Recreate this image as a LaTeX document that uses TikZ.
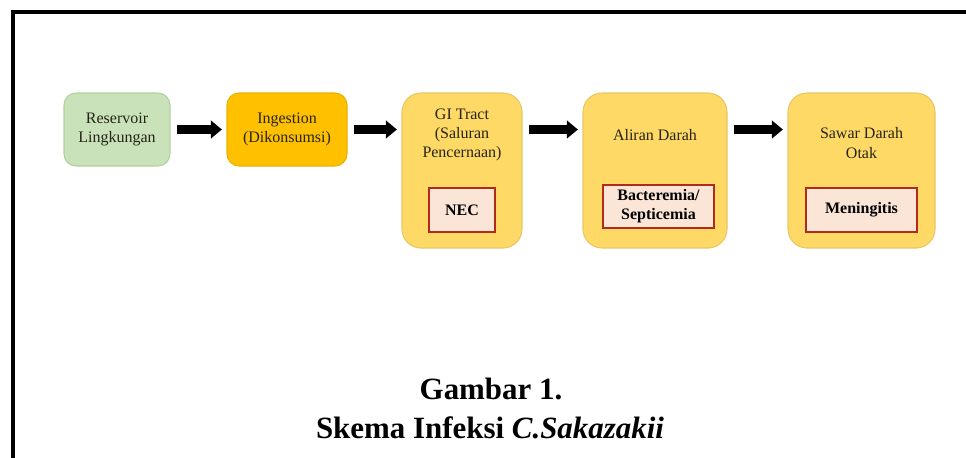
\documentclass[tikz,border=0pt]{standalone}
\usepackage{fontspec}
\setmainfont{Liberation Serif}
\usetikzlibrary{arrows.meta,positioning}

\definecolor{greenbox}{HTML}{C9E2B9}
\definecolor{greenline}{HTML}{B2CFA0}
\definecolor{goldbox}{HTML}{FFC000}
\definecolor{goldline}{HTML}{E9B200}
\definecolor{yellowbox}{HTML}{FFD966}
\definecolor{yellowline}{HTML}{E6C765}
\definecolor{pinkbox}{HTML}{FBE5D6}
\definecolor{redline}{HTML}{B22A1E}
\definecolor{titletext}{HTML}{262318}

\begin{document}
\begin{tikzpicture}[x=0.02cm,y=-0.02cm,
        smallbox/.style={rounded corners=0.24cm, line width=0.6pt, inner sep=0pt,
            minimum width=#1*0.02cm, minimum height=73*0.02cm},
        bigbox/.style={rounded corners=0.38cm, line width=0.6pt, inner sep=0pt,
            fill=yellowbox, draw=yellowline,
            minimum width=#1*0.02cm, minimum height=155*0.02cm},
        innerbox/.style={fill=pinkbox, draw=redline, line width=0.6pt, inner sep=0pt,
            minimum width=#1*0.02cm, minimum height=44*0.02cm,
            font=\fontsize{9.1}{10.8}\selectfont\bfseries, align=center},
        title/.style={font=\fontsize{9.1}{11}\selectfont, text=titletext, align=center},
        flow/.style={line width=5.1pt, -{Triangle[length=6.3pt,width=10pt]},
            shorten <=3.6pt, shorten >=2.6pt}]
        \useasboundingbox (0,0) rectangle (966,457);

        % frame
        \draw[line width=1.8pt, line cap=rect] (13,480) -- (13,12) -- (990,12);

        % the five stages
        \node[smallbox=106, fill=greenbox, draw=greenline] (res) at (117,129.5) {};
        \node[smallbox=120, fill=goldbox, draw=goldline] (ing) at (287,129.5) {};
        \node[bigbox=120] (gi) at (462,170.5) {};
        \node[bigbox=144] (ali) at (655,170.5) {};
        \node[bigbox=147] (saw) at (861.5,170.5) {};

        \node[title] (restext) at (res) {Reservoir\\Lingkungan};
        \node[title] (ingtext) at (ing) {Ingestion\\(Dikonsumsi)};
        \node[title] (gitext) at (462,135) {GI Tract\\(Saluran\\Pencernaan)};
        \node[title] (alitext) at (655,135) {Aliran Darah};
        \node[title] (sawtext) at (861.5,143) {Sawar Darah\\Otak};

        % the inner boxes
        \node[innerbox=66] (nec) at (462,210) {NEC};
        \node[innerbox=111, minimum height=43*0.02cm] (bac) at (658.5,206.5) {Bacteremia/\\Septicemia};
        \node[innerbox=111] (men) at (861.5,210) {Meningitis};

        % arrows
        \draw[flow] (res.east) -- (ing.west);
        \draw[flow] (ing.east) -- (ing.east -| gi.west);
        \draw[flow] (gi.east |- ing.east) -- (ali.west |- ing.east);
        \draw[flow] (ali.east |- ing.east) -- (saw.west |- ing.east);

        % caption
        \node[anchor=base, font=\fontsize{17.6}{21}\selectfont\bfseries] (cap1) at (491,399) {Gambar 1.};
        \node[anchor=base, font=\fontsize{17.6}{21}\selectfont\bfseries] (cap2) at (490,438) {Skema Infeksi \textit{C.Sakazakii}};
    \end{tikzpicture}
\end{document}
